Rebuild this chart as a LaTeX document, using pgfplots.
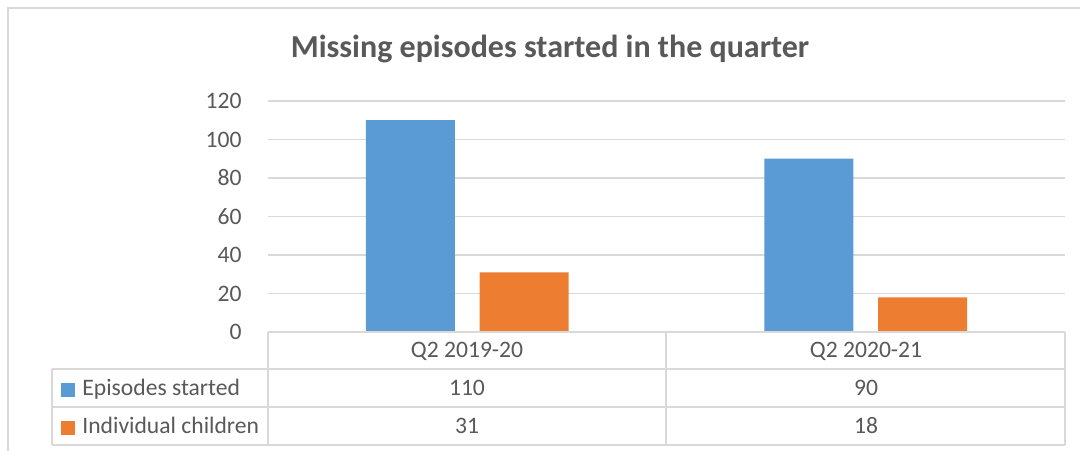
\documentclass[border=0pt]{standalone}
\usepackage{pgfplots}
\pgfplotsset{compat=1.18}
\usepackage{fontspec}
\setmainfont{Carlito}
\definecolor{cblue}{HTML}{5B9BD5}
\definecolor{corange}{HTML}{ED7D31}
\definecolor{ctext}{HTML}{595959}
\definecolor{cgrid}{HTML}{D9D9D9}
\begin{document}
\begin{tikzpicture}[x=0.5pt,y=0.5pt]
\useasboundingbox (0,0) rectangle (1080,450);
\fill[white] (0,0) rectangle (1080,450);
\draw[cgrid, line width=1pt] (8,-20) -- (8,442) -- (1100,442);
\begin{axis}[
 at={(134pt,59pt)}, anchor=south west,
 scale only axis, width=398.5pt, height=115.5pt,
 xmin=0, xmax=2, ymin=0, ymax=120,
 ytick={0,20,...,120},
 xtick=\empty,
 axis line style={draw=none},
 major tick length=0pt,
 ymajorgrids, grid style={cgrid, line width=0.6pt},
 yticklabel style={font=\fontsize{11.8}{14}\selectfont, text=ctext, inner sep=0pt, xshift=-13pt},
 /pgf/number format/assume math mode=true,
 clip=false,
]
\addplot[ybar, bar width=44.5pt, bar shift=-28.4pt, fill=cblue, draw=none] coordinates {(0.5,110) (1.5,90)};
\addplot[ybar, bar width=44.5pt, bar shift=28.4pt, fill=corange, draw=none] coordinates {(0.5,31) (1.5,18)};
\end{axis}
\begin{scope}[cgrid, line width=0.6pt]
\draw (268,118) -- (1065,118);
\draw (52,81) -- (1065,81);
\draw (52,43) -- (1065,43);
\draw (52,5) -- (1065,5);
\draw (52,5) -- (52,81);
\draw (268,5) -- (268,118);
\draw (666,5) -- (666,118);
\draw (1065,5) -- (1065,118);
\end{scope}
\node[anchor=base, font=\fontsize{16}{19}\selectfont\bfseries, text=ctext, inner sep=0pt] at (550,392) {Missing episodes started in the quarter};
\begin{scope}[every node/.style={font=\fontsize{11.8}{14}\selectfont, text=ctext, inner sep=0pt}]
\node[anchor=base] at (467,93) {Q2 2019-20};
\node[anchor=base] at (866,93) {Q2 2020-21};
\node[anchor=base] at (467,55) {110};
\node[anchor=base] at (866,55) {90};
\node[anchor=base] at (467,17) {31};
\node[anchor=base] at (866,17) {18};
\node[anchor=base west] at (82,55) {Episodes started};
\node[anchor=base west] at (82,17) {Individual children};
\end{scope}
\fill[cblue] (61,53) rectangle (75,67);
\fill[corange] (61,15) rectangle (75,29);
\end{tikzpicture}
\end{document}
